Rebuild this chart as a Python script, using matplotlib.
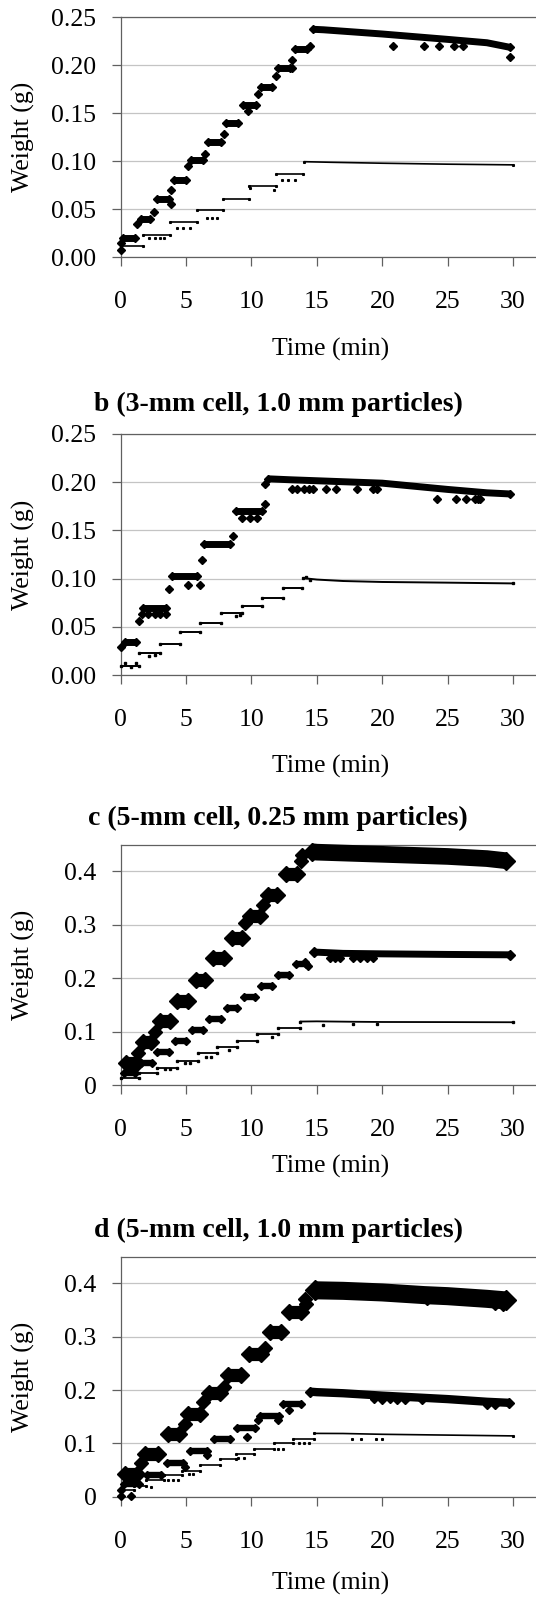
import matplotlib
matplotlib.use("Agg")
import matplotlib.pyplot as plt

plt.rcParams['font.family'] = ['Liberation Serif', 'DejaVu Serif']

W_PX, H_PX, DPI = 536, 1599, 100

# ---- panel a (3-mm cell, 0.25 mm particles) ----
a_big_lvl = [0.0201, 0.0399, 0.0604, 0.0800, 0.1010, 0.1201, 0.1399, 0.1583, 0.1777, 0.1975, 0.2166]
a_big_t0 = [-0.18, 1.20, 2.45, 3.72, 5.04, 6.37, 7.72, 9.04, 10.40, 11.70, 13.00]
a_big_t1 = [1.43, 2.60, 4.03, 5.30, 6.62, 7.97, 9.32, 10.65, 11.90, 13.30, 14.60]
a_big_tail_t = [14.4, 15.5, 20.0, 25.0, 28.0, 30.1]
a_big_tail_w = [0.2375, 0.2370, 0.2326, 0.2270, 0.2235, 0.2187]
a_big_out_t = [0.0, 0.05, 1.22, 2.52, 3.85, 3.87, 5.15, 6.47, 7.90, 9.75, 10.50, 11.90, 13.10, 13.07, 14.47,
               20.8, 23.2, 24.3, 25.5, 26.2, 29.8]
a_big_out_w = [0.0078, 0.0150, 0.0343, 0.0468, 0.0552, 0.0697, 0.0951, 0.1073, 0.1280, 0.1520, 0.1698, 0.1886, 0.2055, 0.1970, 0.2200,
               0.2204, 0.2204, 0.2204, 0.2204, 0.2204, 0.2090]

a_sml_lvl = [0.0117, 0.0232, 0.0364, 0.0489, 0.0607, 0.0739, 0.0864]
a_sml_t0 = [0.0, 1.73, 3.77, 5.80, 7.85, 9.83, 11.87]
a_sml_t1 = [1.73, 3.77, 5.80, 7.85, 9.83, 11.90, 13.96]
a_sml_tail_t = [14.0, 16.0, 20.0, 25.0, 30.0]
a_sml_tail_w = [0.0996, 0.0990, 0.0980, 0.0970, 0.0963]
a_sml_out_t = [2.2, 2.6, 3.0, 3.3, 4.3, 4.8, 5.3, 6.6, 7.0, 7.4, 12.3, 12.8, 13.3, 9.9, 11.7]
a_sml_out_w = [0.0198, 0.0198, 0.0198, 0.0198, 0.030, 0.030, 0.030, 0.0406, 0.0406, 0.0406, 0.080, 0.080, 0.080, 0.072, 0.070]

# ---- panel b (3-mm cell, 1.0 mm particles) ----
b_big_lvl = [0.0346, 0.0692, 0.1030, 0.1359, 0.1700]
b_big_t0 = [0.0, 1.35, 3.57, 6.07, 8.48]
b_big_t1 = [1.53, 3.77, 6.20, 8.70, 11.16]
b_big_tail_t = [10.95, 13.0, 15.0, 20.0, 25.0, 28.0, 30.1]
b_big_tail_w = [0.2035, 0.2025, 0.2015, 0.1990, 0.1925, 0.1890, 0.1878]
b_big_out_t = [0.0, 1.40, 1.60, 2.10, 2.60, 3.00, 3.50, 3.67, 5.17, 6.10, 6.20, 8.60, 9.30, 9.90, 10.40, 11.05, 11.05,
               13.1, 13.5, 14.0, 14.4, 14.7, 15.7, 16.5, 18.05, 19.3, 19.6,
               24.2, 25.6, 26.4, 27.1, 27.3, 27.5]
b_big_out_w = [0.029, 0.056, 0.0636, 0.0636, 0.0636, 0.0636, 0.0636, 0.0896, 0.093, 0.093, 0.119, 0.144, 0.1625, 0.1625, 0.1625, 0.177, 0.198,
               0.1933, 0.1933, 0.1933, 0.1933, 0.1933, 0.1933, 0.1933, 0.1933, 0.1933, 0.1933,
               0.1826, 0.1826, 0.1826, 0.1826, 0.1826, 0.1826]

b_sml_lvl = [0.0097, 0.0232, 0.0322, 0.0446, 0.0543, 0.0643, 0.0716, 0.0795, 0.0906]
b_sml_t0 = [0.0, 1.43, 2.97, 4.50, 6.07, 7.67, 9.25, 10.83, 12.40]
b_sml_t1 = [1.43, 2.97, 4.50, 6.07, 7.67, 9.25, 10.83, 12.40, 13.90]
b_sml_tail_t = [13.95, 15.0, 17.0, 20.0, 25.0, 30.0]
b_sml_tail_w = [0.1005, 0.0990, 0.0975, 0.0965, 0.0958, 0.0950]
b_sml_out_t = [0.3, 0.8, 1.2, 2.2, 2.6, 8.8, 9.1, 14.2, 14.5]
b_sml_out_w = [0.012, 0.008, 0.012, 0.020, 0.021, 0.061, 0.062, 0.102, 0.099]

# ---- panel c (5-mm cell, 0.25 mm particles) ----
c_big_lvl = [0.0420, 0.0806, 0.1190, 0.1575, 0.1970, 0.2375, 0.2760, 0.3156, 0.3550, 0.3960]
c_big_t0 = [-0.20, 1.10, 2.40, 3.70, 5.10, 6.40, 7.85, 9.25, 10.60, 12.00]
c_big_t1 = [1.90, 2.95, 4.40, 5.76, 7.10, 8.50, 9.90, 11.30, 12.60, 14.10]
c_big_tail_t = [13.9, 15.0, 20.0, 25.0, 28.0, 30.2]
c_big_tail_w = [0.437, 0.436, 0.432, 0.428, 0.424, 0.420]
c_big_out_t = [1.35, 2.62, 9.50, 10.90, 13.76, 13.90]
c_big_out_w = [0.059, 0.100, 0.303, 0.337, 0.420, 0.430]

c_med_lvl = [0.0220, 0.0410, 0.0625, 0.0825, 0.1030, 0.1230, 0.1450, 0.1656, 0.1860, 0.2060, 0.2260]
c_med_t0 = [-0.10, 1.20, 2.45, 3.80, 5.10, 6.40, 7.80, 9.10, 10.40, 11.70, 13.10]
c_med_t1 = [1.40, 2.70, 4.00, 5.30, 6.60, 8.00, 9.25, 10.60, 11.90, 13.20, 14.50]
c_med_tail_t = [14.4, 17.0, 20.0, 25.0, 30.1]
c_med_tail_w = [0.2490, 0.2465, 0.2456, 0.2445, 0.2438]
c_med_out_t = [16.0, 16.4, 16.8, 17.8, 18.3, 18.8, 19.3, 14.1, 14.3]
c_med_out_w = [0.2375, 0.2375, 0.2375, 0.2375, 0.2375, 0.2375, 0.2375, 0.231, 0.222]

c_sml_lvl = [0.0125, 0.0220, 0.0325, 0.0456, 0.0590, 0.0706, 0.0825, 0.0950, 0.1075]
c_sml_t0 = [0.0, 1.40, 2.75, 4.30, 5.90, 7.40, 8.90, 10.40, 12.05]
c_sml_t1 = [1.40, 2.75, 4.30, 5.90, 7.40, 8.90, 10.40, 12.05, 13.70]
c_sml_tail_t = [13.7, 15.0, 17.5, 20.0, 25.0, 30.0]
c_sml_tail_w = [0.1188, 0.1192, 0.1185, 0.1180, 0.1178, 0.1175]
c_sml_out_t = [3.4, 3.8, 4.9, 5.3, 6.5, 6.9, 8.3, 11.6, 15.5, 17.8, 19.6]
c_sml_out_w = [0.030, 0.030, 0.041, 0.041, 0.053, 0.053, 0.066, 0.090, 0.113, 0.114, 0.114]

# ---- panel d (5-mm cell, 1.0 mm particles) ----
d_big_lvl = [0.0419, 0.0800, 0.1175, 0.1550, 0.1937, 0.2290, 0.2670, 0.3080, 0.3470]
d_big_t0 = [-0.30, 1.20, 2.95, 4.50, 6.10, 7.60, 9.20, 10.80, 12.20]
d_big_t1 = [1.90, 3.50, 5.10, 6.70, 8.20, 9.80, 11.40, 12.90, 14.40]
d_big_tail_t = [14.1, 17.0, 20.0, 23.2, 25.0, 28.0, 30.2]
d_big_tail_w = [0.387, 0.386, 0.383, 0.378, 0.376, 0.371, 0.368]
d_big_out_t = [1.55, 4.90, 6.30, 7.90, 11.00, 14.20, 14.10, 29.20, 23.4, 28.6]
d_big_out_w = [0.0625, 0.136, 0.178, 0.205, 0.279, 0.362, 0.370, 0.362, 0.372, 0.364]

d_med_lvl = [0.0230, 0.0415, 0.0635, 0.0860, 0.1075, 0.1290, 0.1520, 0.1730]
d_med_t0 = [-0.10, 1.70, 3.20, 5.00, 6.80, 8.55, 10.30, 12.05]
d_med_t1 = [1.70, 3.40, 5.10, 6.95, 8.70, 10.60, 12.40, 14.10]
d_med_tail_t = [14.1, 15.0, 17.0, 20.0, 25.0, 28.0, 30.1]
d_med_tail_w = [0.197, 0.196, 0.194, 0.1895, 0.183, 0.178, 0.176]
d_med_out_t = [0.0, 0.0, 0.8, 9.65, 19.4, 20.0, 20.6, 21.1, 21.7, 23.0, 28.0, 28.6, 4.9, 6.6, 10.5, 12.0, 12.9]
d_med_out_w = [0.012, 0.002, 0.002, 0.1125, 0.183, 0.181, 0.183, 0.181, 0.182, 0.181, 0.172, 0.172, 0.055, 0.078, 0.143, 0.143, 0.163]

d_sml_lvl = [0.0125, 0.0210, 0.0310, 0.0400, 0.0490, 0.0590, 0.0700, 0.0800, 0.0890, 0.1000, 0.1090]
d_sml_t0 = [0.0, 1.00, 1.90, 3.30, 4.70, 6.10, 7.60, 8.80, 10.20, 11.70, 13.20]
d_sml_t1 = [1.00, 1.90, 3.30, 4.70, 6.10, 7.60, 8.80, 10.20, 11.70, 13.20, 14.80]
d_sml_tail_t = [14.8, 17.0, 20.0, 25.0, 30.0]
d_sml_tail_w = [0.1187, 0.1185, 0.1170, 0.1155, 0.1140]
d_sml_out_t = [17.7, 18.4, 19.5, 20.0, 13.6, 14.0, 14.4, 12.0, 12.4, 9.0, 9.4, 5.2, 5.5, 3.6, 4.0, 4.4, 2.3]
d_sml_out_w = [0.1075, 0.1075, 0.1075, 0.1075, 0.100, 0.100, 0.100, 0.090, 0.090, 0.072, 0.072, 0.042, 0.042, 0.032, 0.032, 0.032, 0.018]

titles = [None, 'b (3-mm cell, 1.0 mm particles)',
          'c (5-mm cell, 0.25 mm particles)', 'd (5-mm cell, 1.0 mm particles)']
x_ticks = [0, 5, 10, 15, 20, 25, 30]
y_ticks_ab = [0.00, 0.05, 0.10, 0.15, 0.20, 0.25]
y_labels_ab = ['0.00', '0.05', '0.10', '0.15', '0.20', '0.25']
y_ticks_cd = [0.0, 0.1, 0.2, 0.3, 0.4]
y_labels_cd = ['0', '0.1', '0.2', '0.3', '0.4']

# layout in pixels: (top, bottom) of each plot box, title y, xlabel y
box_left, box_right = 120.7, 540.0
boxes = [(17.3, 257.3), (434.0, 675.0), (844.7, 1085.0), (1256.7, 1496.7)]
title_y = [None, 404, 818, 1230]
xlabel_y = [349, 766, 1166, 1583]
XMAX = 32.06

GRID = '#c4c4c4'
AXC = '#606060'
FS = 18.5


def px_per_min():
    return (box_right - box_left) / XMAX


def tip(ms, marker):
    # half width of a diamond marker, in minutes
    return 0.5 * 1.414 * ms * DPI / 72.0 / px_per_min() if marker == 'D' else 0.0


def draw_steps(ax, t0, t1, lvl, lw, ms, marker='D'):
    # plateaus: thick bar with diamond tips, inset so the tips stay inside the read span
    d = tip(ms, marker)
    for s, e, w in zip(t0, t1, lvl):
        ax.plot([s + d, e - d], [w, w], color='black', lw=lw, marker=marker, ms=ms,
                solid_capstyle='butt', clip_on=False, zorder=3)


def draw_tail(ax, tt, ww, lw, ms, marker='D'):
    d = tip(ms, marker)
    tt = list(tt)
    tt[0] += d
    tt[-1] -= d
    ax.plot(tt, ww, color='black', lw=lw, solid_capstyle='butt', clip_on=False, zorder=3)
    ax.plot([tt[0], tt[-1]], [ww[0], ww[-1]], ls='none', color='black', marker=marker, ms=ms,
            clip_on=False, zorder=3)


def draw_points(ax, tt, ww, ms, marker='D'):
    ax.plot(tt, ww, ls='none', color='black', marker=marker, ms=ms, clip_on=False, zorder=3)


fig = plt.figure(figsize=(W_PX / DPI, H_PX / DPI), dpi=DPI)
axes = []
for i, (top, bot) in enumerate(boxes):
    ax = fig.add_axes([box_left / W_PX, 1 - bot / H_PX,
                       (box_right - box_left) / W_PX, (bot - top) / H_PX])
    axes.append(ax)
    ax.set_xlim(0, XMAX)
    if i < 2:
        ax.set_ylim(0, 0.25)
        ax.set_yticks(y_ticks_ab)
        ax.set_yticklabels(y_labels_ab)
    else:
        ax.set_ylim(0, 0.45)
        ax.set_yticks(y_ticks_cd)
        ax.set_yticklabels(y_labels_cd)
    ax.set_xticks(x_ticks)
    ax.set_xticklabels([str(v) for v in x_ticks])
    ax.yaxis.grid(True, color=GRID, lw=0.9)
    ax.set_axisbelow(True)
    for side in ['left', 'top', 'bottom']:
        ax.spines[side].set_color(AXC)
        ax.spines[side].set_linewidth(0.9)
    ax.spines['right'].set_visible(False)
    ax.tick_params(axis='both', direction='out', length=6.5, width=0.9, color=AXC,
                   labelsize=FS, labelcolor='black')
    ax.tick_params(axis='x', pad=18)
    ax.tick_params(axis='y', pad=11)

    h = bot - top
    wbox = box_right - box_left
    ax.set_xlabel('Time (min)', fontsize=FS)
    ax.xaxis.label.set_va('center')
    ax.xaxis.set_label_coords(0.5, (bot - xlabel_y[i]) / h)
    ax.set_ylabel('Weight (g)', fontsize=FS)
    ax.yaxis.label.set_va('center')
    ax.yaxis.set_label_coords((23 - box_left) / wbox, 0.5)

    if titles[i]:
        fig.text(278 / W_PX, 1 - title_y[i] / H_PX, titles[i], ha='center', va='center',
                 fontsize=20, fontweight='bold')

# panel a
ax = axes[0]
draw_steps(ax, a_big_t0, a_big_t1, a_big_lvl, lw=5.0, ms=4.4)
draw_tail(ax, a_big_tail_t, a_big_tail_w, lw=5.0, ms=4.4)
draw_points(ax, a_big_out_t, a_big_out_w, ms=4.0)
draw_steps(ax, a_sml_t0, a_sml_t1, a_sml_lvl, lw=1.2, ms=1.2, marker='s')
draw_tail(ax, a_sml_tail_t, a_sml_tail_w, lw=1.2, ms=1.2, marker='s')
draw_points(ax, a_sml_out_t, a_sml_out_w, ms=1.2, marker='s')

# panel b
ax = axes[1]
draw_steps(ax, b_big_t0, b_big_t1, b_big_lvl, lw=5.0, ms=4.4)
draw_tail(ax, b_big_tail_t, b_big_tail_w, lw=5.0, ms=4.4)
draw_points(ax, b_big_out_t, b_big_out_w, ms=4.0)
draw_steps(ax, b_sml_t0, b_sml_t1, b_sml_lvl, lw=1.4, ms=1.4, marker='s')
draw_tail(ax, b_sml_tail_t, b_sml_tail_w, lw=1.4, ms=1.4, marker='s')
draw_points(ax, b_sml_out_t, b_sml_out_w, ms=1.6, marker='s')

# panel c
ax = axes[2]
draw_steps(ax, c_big_t0, c_big_t1, c_big_lvl, lw=9.5, ms=8.5)
draw_tail(ax, c_big_tail_t, c_big_tail_w, lw=12.0, ms=9.5)
draw_points(ax, c_big_out_t, c_big_out_w, ms=7.0)
draw_steps(ax, c_med_t0, c_med_t1, c_med_lvl, lw=4.6, ms=4.4)
draw_tail(ax, c_med_tail_t, c_med_tail_w, lw=5.0, ms=4.6)
draw_points(ax, c_med_out_t, c_med_out_w, ms=4.0)
draw_steps(ax, c_sml_t0, c_sml_t1, c_sml_lvl, lw=1.3, ms=1.4, marker='s')
draw_tail(ax, c_sml_tail_t, c_sml_tail_w, lw=1.3, ms=1.4, marker='s')
draw_points(ax, c_sml_out_t, c_sml_out_w, ms=1.4, marker='s')

# panel d
ax = axes[3]
draw_steps(ax, d_big_t0, d_big_t1, d_big_lvl, lw=9.5, ms=8.5)
draw_tail(ax, d_big_tail_t, d_big_tail_w, lw=13.0, ms=10.0)
draw_points(ax, d_big_out_t, d_big_out_w, ms=7.0)
draw_steps(ax, d_med_t0, d_med_t1, d_med_lvl, lw=4.6, ms=4.4)
draw_tail(ax, d_med_tail_t, d_med_tail_w, lw=6.0, ms=5.0)
draw_points(ax, d_med_out_t, d_med_out_w, ms=4.0)
draw_steps(ax, d_sml_t0, d_sml_t1, d_sml_lvl, lw=1.2, ms=1.2, marker='s')
draw_tail(ax, d_sml_tail_t, d_sml_tail_w, lw=1.2, ms=1.2, marker='s')
draw_points(ax, d_sml_out_t, d_sml_out_w, ms=1.2, marker='s')

fig.savefig('out.png', dpi=DPI)
